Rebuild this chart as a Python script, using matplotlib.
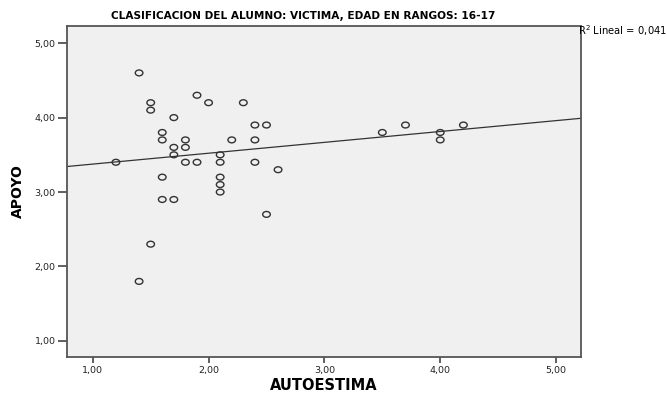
import matplotlib
matplotlib.use("Agg")
import matplotlib.pyplot as plt
from matplotlib.path import Path
from matplotlib.transforms import Affine2D
import numpy as np

plt.rcParams['font.family'] = ['DejaVu Sans']

# datos
autoestima = [1.2, 1.4, 1.4, 1.5, 1.5, 1.5, 1.6, 1.6, 1.6, 1.6,
              1.7, 1.7, 1.7, 1.7, 1.8, 1.8, 1.8, 1.9, 1.9, 2.0,
              2.1, 2.1, 2.1, 2.1, 2.1, 2.2, 2.3, 2.4, 2.4, 2.4,
              2.5, 2.5, 2.6, 3.5, 3.7, 4.0, 4.0, 4.2]
apoyo = [3.4, 4.6, 1.8, 4.2, 4.1, 2.3, 3.8, 3.7, 3.2, 2.9,
         4.0, 3.6, 3.5, 2.9, 3.7, 3.6, 3.4, 4.3, 3.4, 4.2,
         3.5, 3.4, 3.2, 3.1, 3.0, 3.7, 4.2, 3.9, 3.7, 3.4,
         3.9, 2.7, 3.3, 3.8, 3.9, 3.8, 3.7, 3.9]
ticks = [1, 2, 3, 4, 5]
tick_labels = ["1,00", "2,00", "3,00", "4,00", "5,00"]
r2_texto = "R$^2$ Lineal = 0,041"
titulo = "CLASIFICACION DEL ALUMNO: VICTIMA, EDAD EN RANGOS: 16-17"

fig = plt.figure(figsize=(6.67, 3.94), dpi=100)
ax = fig.add_axes([0.1, 0.094, 0.771, 0.840])
ax.set_facecolor("#f0f0f0")

xmin, xmax = 0.775, 5.215
ymin, ymax = 0.785, 5.23

# recta de ajuste lineal
m, b = np.polyfit(autoestima, apoyo, 1)
xs = np.array([xmin, xmax])
ax.plot(xs, m * xs + b, color="#333333", linewidth=0.9, zorder=2)

# circulo un poco achatado, como en el original
elipse = Path.unit_circle().transformed(Affine2D().scale(1.3, 1.0))
ax.scatter(autoestima, apoyo, s=30, marker=elipse, facecolors="none",
           edgecolors="#333333", linewidths=1.0, zorder=3)

ax.set_xlim(xmin, xmax)
ax.set_ylim(ymin, ymax)
ax.set_xticks(ticks)
ax.set_xticklabels(tick_labels)
ax.set_yticks(ticks)
ax.set_yticklabels(tick_labels)
ax.tick_params(axis="both", direction="out", width=1.2,
               color="#444444", labelsize=6.8, labelcolor="#222222")
ax.tick_params(axis="x", length=4.5, pad=2)
ax.tick_params(axis="y", length=6.5, pad=1.5)

for sp in ax.spines.values():
    sp.set_color("#555555")
    sp.set_linewidth(1.3)

ax.set_xlabel("AUTOESTIMA", fontsize=10.5, fontweight="bold", labelpad=2)
ax.set_ylabel("APOYO", fontsize=10, fontweight="bold", labelpad=7)

fig.text(303 / 667, 1 - 16 / 394, titulo, fontsize=7.6, fontweight="bold",
         ha="center", va="center")
fig.text(578 / 667, 1 - 31 / 394, r2_texto, fontsize=7.2, ha="left", va="center")

fig.savefig("out.png", dpi=100)
